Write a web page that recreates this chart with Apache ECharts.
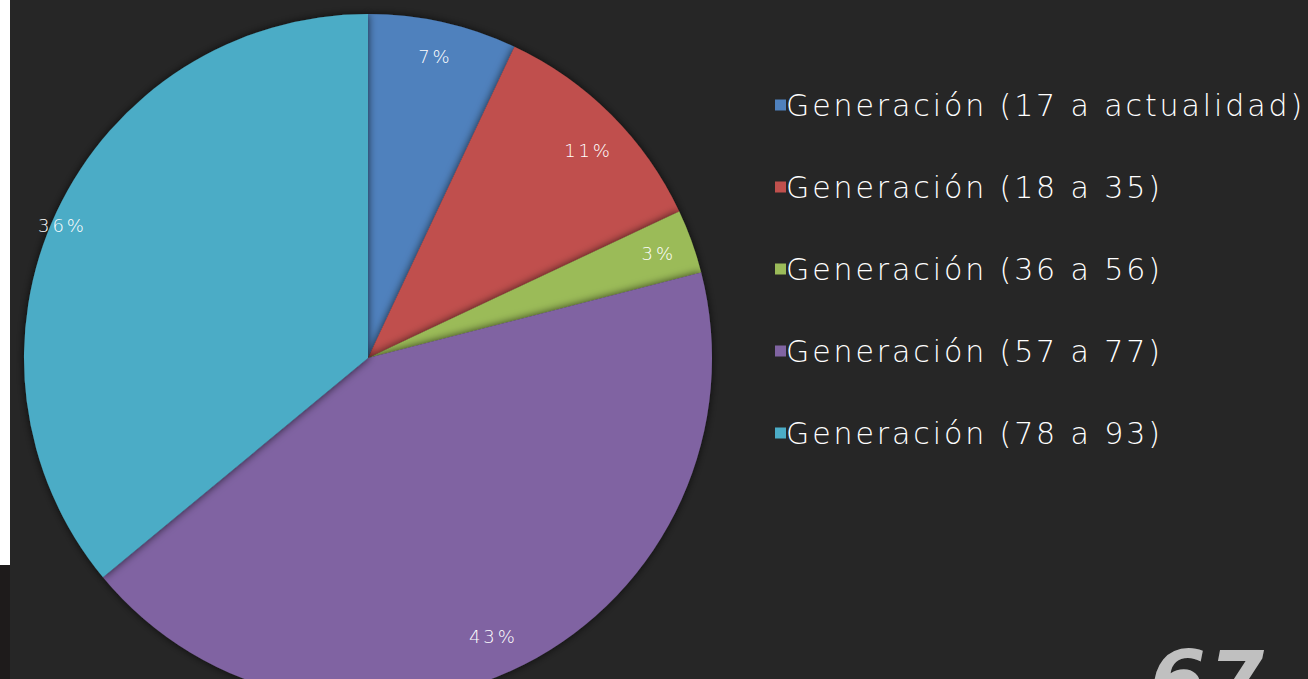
<!DOCTYPE html>
<html>
<head>
<meta charset="utf-8">
<style>
  html, body { margin: 0; padding: 0; background: #262626; }
  #chart { width: 1308px; height: 679px; }
  #chart svg text { letter-spacing: 2.9px; }
</style>
<script src="https://cdn.jsdelivr.net/npm/echarts@6/dist/echarts.min.js"></script>
</head>
<body>
<div id="chart"></div>
<script>
// ---- data ----
const categories = [
  'Generación (17 a actualidad)',
  'Generación (18 a 35)',
  'Generación (36 a 56)',
  'Generación (57 a 77)',
  'Generación (78 a 93)'
];
const values = [7, 11, 3, 43, 36];
const pageNumber = '67';

// ---- style ----
const colors = ['#4F81BD', '#C0504D', '#9BBB59', '#8064A2', '#4BACC6'];
const center = [368, 358];
const R = 344;
const labelNudge = [[0, 0], [2, 11], [0, 0], [-15, 3], [-26, -1]];

const chart = echarts.init(document.getElementById('chart'), null, { renderer: 'svg' });
const pieData = categories.map((n, i) => ({ name: n, value: values[i], itemStyle: { color: colors[i] } }));
const labelData = categories.map((n, i) => ({ name: n, value: values[i] }));

chart.setOption({
  backgroundColor: '#262626',
  animation: false,
  legend: {
    orient: 'vertical',
    left: 775,
    top: 90,
    padding: 0,
    itemGap: 52,
    itemWidth: 11,
    itemHeight: 11,
    icon: 'rect',
    data: categories,
    selectedMode: false,
    textStyle: { color: '#ffffff', fontSize: 30, lineHeight: 30, fontWeight: 300, fontFamily: 'DejaVu Sans', padding: [0, 0, 0, -5] }
  },
  graphic: [
    { type: 'rect', left: 0, top: 0, shape: { width: 10, height: 565 }, style: { fill: '#ffffff' }, z: 10 },
    { type: 'rect', left: 0, top: 565, shape: { width: 10, height: 114 }, style: { fill: '#1e1b1b' }, z: 10 },
    { type: 'text', left: 1150, top: 640, z: 10,
      style: { text: pageNumber, fill: '#c0c0c0', fontSize: 80, fontStyle: 'italic', fontWeight: 'bold', fontFamily: 'DejaVu Sans' } }
  ],
  series: [
    {
      type: 'pie',
      center: center,
      radius: [0, R],
      startAngle: 90,
      clockwise: true,
      silent: true,
      label: { show: false },
      labelLine: { show: false },
      itemStyle: { shadowBlur: 8, shadowColor: 'rgba(0,0,0,0.7)' },
      data: pieData
    },
    {
      type: 'pie',
      center: center,
      radius: [R - 58, R - 18],
      startAngle: 90,
      clockwise: true,
      silent: true,
      itemStyle: { color: 'rgba(0,0,0,0)' },
      label: {
        show: true,
        position: 'inside',
        formatter: p => p.value + '%',
        color: '#ffffff',
        fontSize: 18,
        fontWeight: 300,
        fontFamily: 'DejaVu Sans'
      },
      labelLine: { show: false },
      labelLayout: p => ({ dx: labelNudge[p.dataIndex][0], dy: labelNudge[p.dataIndex][1] }),
      data: labelData
    }
  ]
});
</script>
</body>
</html>
